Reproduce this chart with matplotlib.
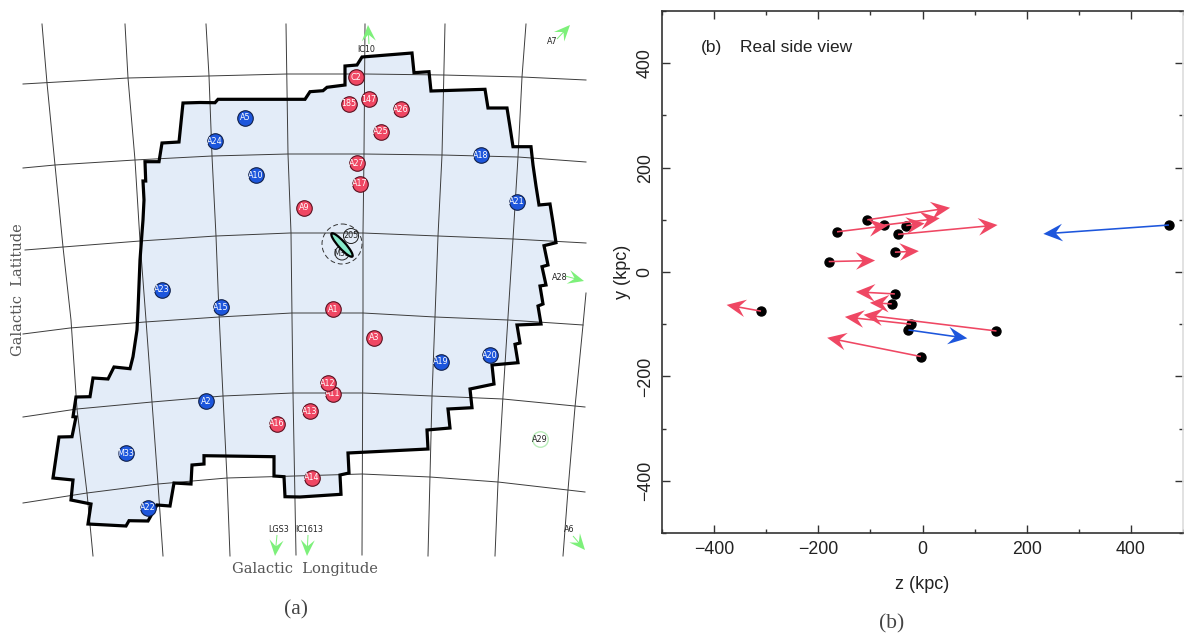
import matplotlib
matplotlib.use('Agg')
import numpy as np
from matplotlib import pyplot as plt
from matplotlib.patches import Polygon, Ellipse, Circle

boundary = [(183,103),(200,102.5),(215,102.7),(218,99.3),(305,99.3),(310,91.7),(323,90.7),(327,87.3),
            (345,85),(345,66),(357,65),(362,57),(412,53),(414,72.7),(429,71.7),(431,91),(485,89.3),
            (488,108),(507,108),(510,127),(513,146.7),(531,146.7),(533,165),(536,186),(539,205),
            (550,204),(553,222.7),(556,242.7),(544,245.7),(548,265),(542,266.7),(546,285),(540,286),
            (543,304),(538,306),(541,324),(517,325),(520,343),(515,344.3),(518,362.7),(492,365),
            (494,384),(470,389),(472,407.7),(448,409),(450,428),(427,430),(428,449),(348,453),
            (349,473),(340,475),(341,494.3),(300,497),(285,496.7),(284,476.7),(274,476),(274,456.7),
            (204,455.7),(204,464),(192,465),(191,484),(174,483),(170,506),(157,505),(148,521),
            (129,520.7),(126,526),(88,524),(91,504),(71,500),(73,480),(53,478),(59,437),(72,436.7),
            (76,417),(73,416.7),(76,397),(90,396.7),(93,378),(108,379),(114,367),(130,368.7),
            (133,356.7),(137,330),(138,310),(140,260),(142,233),(143,220),(144,200),(143,181),
            (145.7,181),(145,161.7),(159,161.7),(162,143),(179,142)]

lat_lines = [
    [(23,84),(128,78),(208,76),(287,74),(365,74),(443,75),(522,77),(586,80)],
    [(23,168),(55,165),(135,160),(212,156),(288,154),(363,154),(442,155),(518,157),(586,162)],
    [(25,250),(63,247),(140,241),(216,236),(290,233),(363,233),(438,236),(513,239),(586,243)],
    [(23,334),(70,328),(145,322),(219,317),(292,313),(363,313),(435,317),(508,320),(583,325)],
    [(23,417),(77,409),(152,402),(223,396),(293,393),(363,393),(432,396),(503,399),(585,407)],
    [(23,503),(87,493),(158,484),(227,478),(295,476),(362,474),(430,477),(498,482),(585,492)],
]
lon_lines = [
    [(42,24),(47,83),(55,165),(63,247),(71,320),(77,409),(87,493),(93,556)],
    [(125,24),(128,78),(135,160),(140,241),(146,320),(152,402),(158,484),(163,556)],
    [(206,24),(209,76),(212,156),(216,236),(219,313),(223,396),(227,478),(230,556)],
    [(286,24),(288,154),(291,233),(292,317),(293,393),(296,555)],
    [(365,24),(364,154),(363,233),(363,313),(362,555)],
    [(445,24),(442,155),(438,236),(435,317),(432,396),(428,556)],
    [(526,24),(522,77),(518,157),(513,239),(508,317),(503,396),(498,482),(495,556)],
    [(586,293),(583,325),(575,407),(568,490),(563,556)],
]

blue_names = ['A5','A24','A10','A23','A15','A18','A21','A2','M33','A22','A19','A20']
blue_x = [245,215,256,162,221,481,517,206,126,148,441,490]
blue_y = [118,141,175,290,307,155,202,401,453,508,362,355]

red_names = ['A9','C2','185','147','A26','A25','A27','A17','A1','A3','A11','A12','A13','A16','A14']
red_x = [304,356,349,369,401,381,357,360,333,374,333,328,310,277,312]
red_y = [208,77,104,99,109,132,163,184,309,338,394,383,411,424,478]

off_names = ['IC10','A7','A28','LGS3','IC1613','A6']
off_lx = [366,552,560,279,309,569]
off_ly = [49,41,278,530,530,530]
off_x0 = [369,557,565,277,308,573]
off_y0 = [44,39,276,535,535,536]
off_x1 = [368,570,584,275,307,585]
off_y1 = [25,25,281,556,556,550]

# panel (b), values in kpc
red_z0 = [-106,-164,-73,-31,-47,-53,-180,-53,-59,-310,-22,142,-3]
red_y0 = [100,77,90,89,72,38,20,-42,-61,-75,-100,-113,-162]
red_z1 = [53,-66,33,4,144,-7,-91,-128,-101,-376,-149,-113,-183]
red_y1 = [123,89,103,93,90,40,22,-38,-59,-63,-86,-82,-126]

blue_z0 = [-27,473]
blue_y0 = [-111,90]
blue_z1 = [86,232]
blue_y1 = [-127,73]

C_RED = '#ef4763'
C_BLUE = '#1d56dc'
C_GREEN = '#7df07a'

fig = plt.figure(figsize=(11.84, 6.37), dpi=100)

ax = fig.add_axes([0, 0, 1, 1])
ax.set_xlim(0, 1184)
ax.set_ylim(637, 0)
ax.axis('off')

ax.add_patch(Polygon(boundary, closed=True, fc='#e3ecf8', ec='none', zorder=1))
for line in lat_lines + lon_lines:
    xs, ys = zip(*line)
    ax.plot(xs, ys, color='#3c3c3c', lw=0.7, zorder=2)
ax.add_patch(Polygon(boundary, closed=True, fc='none', ec='black', lw=2.3, joinstyle='miter', zorder=3))

ax.scatter(blue_x, blue_y, s=125, c=C_BLUE, edgecolors='#10204a', linewidths=0.8, zorder=4)
for n, x, y in zip(blue_names, blue_x, blue_y):
    ax.text(x, y, n, color='white', fontsize=5.8, ha='center', va='center', zorder=6)

# one at a time so the later circle sits on the earlier label
for i, (n, x, y) in enumerate(zip(red_names, red_x, red_y)):
    ax.scatter([x], [y], s=125, c=C_RED, edgecolors='#5a1020', linewidths=0.8, zorder=4 + i * 0.01)
    ax.text(x, y, n, color='white', fontsize=5.8, ha='center', va='center', zorder=4.005 + i * 0.01)

ax.scatter([540], [439], s=125, c='white', edgecolors='#b8ecb8', linewidths=1.0, zorder=4)
ax.text(540, 439, 'A29', color='#222222', fontsize=5.8, ha='center', va='center', zorder=5)

# M31 and its companions
ax.add_patch(Circle((342, 244), 20, fc='none', ec='#333333', lw=0.7, ls=(0, (5, 3)), zorder=4))
ax.add_patch(Circle((351, 236), 7.5, fc='none', ec='#222222', lw=0.7, zorder=4))
ax.add_patch(Circle((342, 253), 7, fc='none', ec='#222222', lw=0.7, zorder=4))
ax.add_patch(Ellipse((342, 245), 31, 7, angle=48, fc='#86e9c9', ec='black', lw=1.6, zorder=5))
ax.text(351, 236, '205', color='#222222', fontsize=5.8, ha='center', va='center', zorder=6)
ax.text(342, 253, 'M32', color='#222222', fontsize=5.8, ha='center', va='center', zorder=4)

ax.quiver(off_x0, off_y0, np.subtract(off_x1, off_x0), np.subtract(off_y1, off_y0),
          angles='xy', scale_units='xy', scale=1, units='dots', width=1.0,
          headwidth=14, headlength=16, headaxislength=10, color=C_GREEN, zorder=4)
for n, x, y in zip(off_names, off_lx, off_ly):
    ax.text(x, y, n, color='#222222', fontsize=5.8, ha='center', va='center', zorder=5)

ax.text(305, 569, 'Galactic  Longitude', family='DejaVu Serif', color='#555555', fontsize=10.5,
        ha='center', va='center')
ax.text(18, 290, 'Galactic  Latitude', family='DejaVu Serif', color='#555555', fontsize=10.5,
        rotation=90, ha='center', va='center')
ax.text(296, 610, '(a)', family='Liberation Serif', color='#444444', fontsize=15.5, ha='center', va='center')
ax.text(892, 624, '(b)', family='Liberation Serif', color='#444444', fontsize=15.5, ha='center', va='center')

# panel (b)
bx = fig.add_axes([662 / 1184, 1 - 533 / 637, 521 / 1184, 522 / 637])
bx.set_xlim(-500, 500)
bx.set_ylim(-500, 500)
bx.patch.set_alpha(0)

for s in bx.spines.values():
    s.set_linewidth(1.2)
    s.set_color('#333333')
bx.spines['right'].set_color('#dddddd')

bx.set_xticks([-400, -200, 0, 200, 400])
bx.set_yticks([-400, -200, 0, 200, 400])
bx.set_xticks(np.arange(-500, 501, 100), minor=True)
bx.set_yticks(np.arange(-500, 501, 100), minor=True)
bx.set_xticklabels(['\u2212400', '\u2212200', '0', '200', '400'], family='Liberation Sans', fontsize=12.8)
bx.set_yticklabels(['\u2212400', '\u2212200', '0', '200', '400'], family='Liberation Sans', fontsize=12.8,
                   rotation=90, va='center')
bx.tick_params(which='major', direction='in', top=True, right=True, length=6, width=1.0, color='#333333',
               labelcolor='#222222', pad=6)
bx.tick_params(which='minor', direction='in', top=True, right=True, length=3, width=1.0, color='#333333')

bx.scatter(red_z0 + blue_z0, red_y0 + blue_y0, s=42, c='black', zorder=2)
bx.quiver(red_z0, red_y0, np.subtract(red_z1, red_z0), np.subtract(red_y1, red_y0),
          angles='xy', scale_units='xy', scale=1, units='dots', width=1.6,
          headwidth=11, headlength=12, headaxislength=8, color=C_RED, zorder=3)
bx.quiver(blue_z0, blue_y0, np.subtract(blue_z1, blue_z0), np.subtract(blue_y1, blue_y0),
          angles='xy', scale_units='xy', scale=1, units='dots', width=1.6,
          headwidth=11, headlength=12, headaxislength=8, color=C_BLUE, zorder=3)

bx.text(-425, 430, '(b)', family='Liberation Sans', fontsize=12.5, color='#222222', ha='left', va='center')
bx.text(-350, 430, 'Real side view', family='Liberation Sans', fontsize=12.5, color='#222222', ha='left', va='center')
bx.set_xlabel('z (kpc)', family='Liberation Sans', fontsize=13, color='#222222', labelpad=13)
bx.set_ylabel('y (kpc)', family='Liberation Sans', fontsize=13, color='#222222', labelpad=4)

fig.savefig('out.png', dpi=100)
